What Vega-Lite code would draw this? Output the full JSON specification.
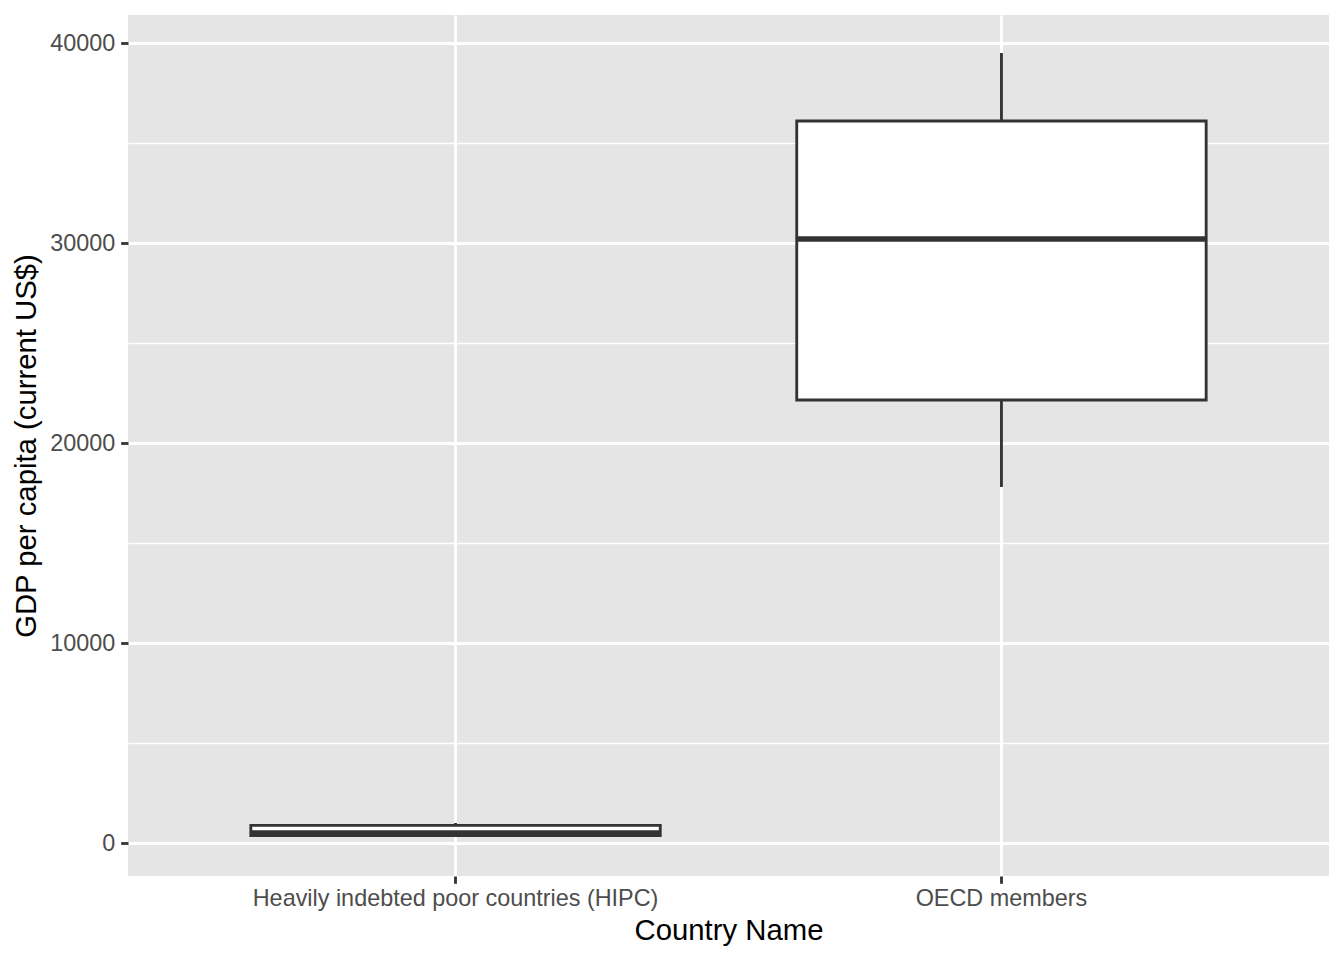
{
  "$schema": "https://vega.github.io/schema/vega-lite/v6.json",
  "autosize": "none",
  "width": 1201,
  "height": 861,
  "padding": {"left": 128, "top": 15, "right": 15, "bottom": 84},
  "background": "white",
  "config": {
    "view": {"fill": "#E5E5E5", "stroke": null},
    "font": "Liberation Sans"
  },
  "data": {
    "values": [
      {"country": "Heavily indebted poor countries (HIPC)", "lower": 330, "q1": 370, "median": 500, "q3": 885, "upper": 1000},
      {"country": "OECD members", "lower": 17800, "q1": 22150, "median": 30200, "q3": 36100, "upper": 39500}
    ]
  },
  "encoding": {
    "x": {
      "field": "country",
      "type": "nominal",
      "sort": null,
      "scale": {"paddingInner": 0.25, "paddingOuter": 0.225},
      "axis": {
        "title": "Country Name",
        "labelAngle": 0,
        "labelLimit": 0,
        "domain": false,
        "grid": true,
        "gridColor": "white",
        "gridWidth": 2.85,
        "bandPosition": 0.5,
        "tickColor": "#333333",
        "tickWidth": 2.85,
        "tickSize": 7.3,
        "labelFontSize": 23.4,
        "labelColor": "#4D4D4D",
        "labelPadding": 4,
        "titleFontSize": 29.3,
        "titleFontWeight": "normal",
        "titleColor": "black",
        "titlePadding": 7
      }
    }
  },
  "layer": [
    {
      "mark": {"type": "rule", "color": "#333333", "strokeWidth": 2.85},
      "encoding": {
        "y": {
          "field": "lower",
          "type": "quantitative",
          "scale": {"domain": [-1650, 41400], "nice": false, "zero": false},
          "axis": {
            "title": "GDP per capita (current US$)",
            "values": [0, 5000, 10000, 15000, 20000, 25000, 30000, 35000, 40000],
            "format": "d",
            "labelExpr": "datum.value % 10000 === 0 ? datum.label : ''",
            "domain": false,
            "grid": true,
            "gridColor": "white",
            "gridWidth": {"condition": {"test": "datum.value % 10000 === 0", "value": 2.85}, "value": 1.42},
            "tickColor": "#333333",
            "tickWidth": 2.85,
            "tickSize": 7.3,
            "tickOpacity": {"condition": {"test": "datum.value % 10000 === 0", "value": 1}, "value": 0},
            "labelFontSize": 23.4,
            "labelColor": "#4D4D4D",
            "labelPadding": 5.9,
            "titleFontSize": 29.3,
            "titleFontWeight": "normal",
            "titleColor": "black",
            "titlePadding": 8
          }
        },
        "y2": {"field": "upper"}
      }
    },
    {
      "mark": {"type": "bar", "fill": "white", "stroke": "#333333", "strokeWidth": 2.85},
      "encoding": {
        "y": {"field": "q1", "type": "quantitative"},
        "y2": {"field": "q3"}
      }
    },
    {
      "mark": {"type": "rule", "color": "#333333", "strokeWidth": 5.7},
      "encoding": {
        "x": {"field": "country", "type": "nominal", "sort": null, "bandPosition": 0},
        "x2": {"field": "country", "bandPosition": 1},
        "y": {"field": "median", "type": "quantitative"}
      }
    }
  ]
}
